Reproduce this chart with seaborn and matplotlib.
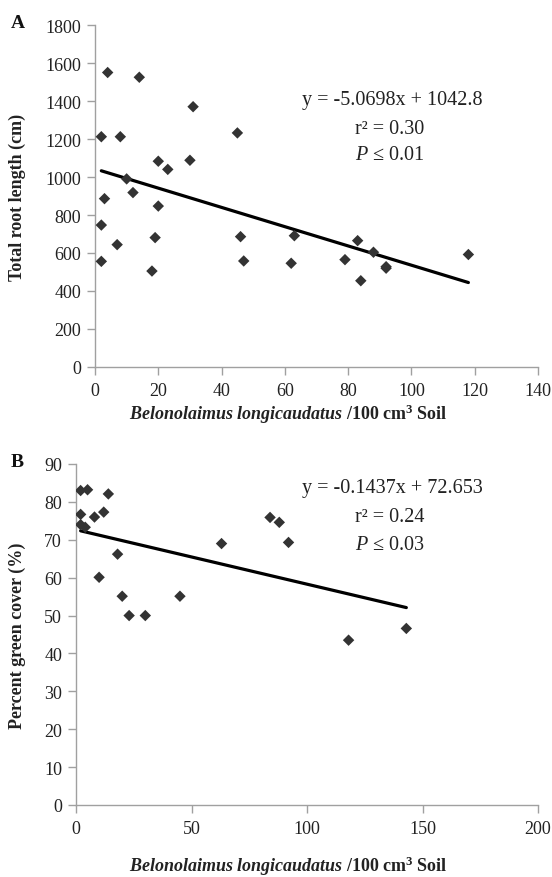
import numpy as np
import pandas as pd
import matplotlib
matplotlib.use("Agg")
import matplotlib.pyplot as plt
import seaborn as sns

# ---- Panel A data: nematodes vs total root length ----
a_nematodes = [2, 2, 2, 3, 4, 7, 8, 10, 12, 14, 18, 19, 20, 20, 23, 30, 31,
               45, 46, 47, 62, 63, 79, 83, 84, 88, 92, 92, 118]
a_root_length = [1212, 747, 556, 886, 1550, 644, 1212, 990, 918, 1525, 505, 681,
                 1083, 847, 1040, 1088, 1370, 1232, 686, 558, 546, 691, 565, 665,
                 454, 604, 528, 520, 592]
a_slope, a_intercept = -5.0698, 1042.8
a_eq = "y = -5.0698x + 1042.8"
a_r2 = "r² = 0.30"
a_p = "0.01"
a_xticks = [0, 20, 40, 60, 80, 100, 120, 140]
a_yticks = [0, 200, 400, 600, 800, 1000, 1200, 1400, 1600, 1800]

# ---- Panel B data: nematodes vs percent green cover ----
b_nematodes = [2, 5, 14, 2, 8, 12, 2, 4, 18, 10, 20, 23, 30, 45, 63, 84, 88, 92, 118, 143]
b_green_cover = [83.0, 83.2, 82.1, 76.7, 76.0, 77.3, 74.0, 73.3, 66.2, 60.1, 55.1, 50.0,
                 50.0, 55.1, 69.0, 75.9, 74.6, 69.3, 43.5, 46.6]
b_slope, b_intercept = -0.1437, 72.653
b_eq = "y = -0.1437x + 72.653"
b_r2 = "r² = 0.24"
b_p = "0.03"
b_xticks = [0, 50, 100, 150, 200]
b_yticks = [0, 10, 20, 30, 40, 50, 60, 70, 80, 90]

sns.set_theme(style="ticks")
plt.rcParams["font.family"] = ["Liberation Serif", "DejaVu Serif"]
plt.rcParams["mathtext.fontset"] = "custom"
plt.rcParams["mathtext.rm"] = "Liberation Serif"
plt.rcParams["mathtext.it"] = "Liberation Serif:italic"
plt.rcParams["mathtext.bf"] = "Liberation Serif:bold"
plt.rcParams["mathtext.bfit"] = "Liberation Serif:italic:bold"

W, H = 552, 878
fig = plt.figure(figsize=(W / 100, H / 100), dpi=100)

def px_axes(left, top, right, bottom):
    return fig.add_axes([left / W, 1 - bottom / H, (right - left) / W, (bottom - top) / H])

axA = px_axes(95, 26, 538, 368)
axB = px_axes(76, 465, 538, 806)

MARK = "#333333"
XLABEL = r"$\mathbfit{Belonolaimus\ longicaudatus}$ /100 cm$^{\mathbf{3}}$ Soil"

def panel(ax, xs, ys, slope, intercept, xticks, yticks, ylabel, eq, r2, p,
          eq_xy, letter, letter_xy, xlabel_y):
    df = pd.DataFrame({"x": xs, "y": ys})
    sns.scatterplot(data=df, x="x", y="y", ax=ax, marker="D", s=34,
                    color=MARK, edgecolor="none", zorder=3)
    lx = np.array([min(xs), max(xs)], dtype=float)
    line = pd.DataFrame({"x": lx, "y": slope * lx + intercept})
    sns.lineplot(data=line, x="x", y="y", ax=ax, color="black", lw=2.3, zorder=2)
    ax.set_xlim(xticks[0], xticks[-1])
    ax.set_ylim(yticks[0], yticks[-1])
    ax.set_xticks(xticks)
    ax.set_yticks(yticks)
    ax.set_xlabel("")
    ax.set_ylabel(ylabel, fontsize=13, fontweight="bold", color="#222222")
    ax.yaxis.set_label_coords(-(ax.get_position().x0 * W - 26) / (ax.get_position().width * W), 0.5)
    for s in ["top", "right"]:
        ax.spines[s].set_visible(False)
    for s in ["left", "bottom"]:
        ax.spines[s].set_color("#a0a0a0")
        ax.spines[s].set_linewidth(1.0)
    ax.tick_params(axis="both", direction="out", length=6, width=1.0, color="#a0a0a0",
                   labelsize=13, labelcolor="#222222")
    ax.tick_params(axis="x", pad=5)
    ax.tick_params(axis="y", pad=4)
    ex, ey = eq_xy
    fig.text(ex / W, 1 - ey / H, eq, ha="center", va="center", fontsize=14.5, color="#222222")
    fig.text((ex - 2) / W, 1 - (ey + 29) / H, r2, ha="center", va="center", fontsize=14.5, color="#222222")
    fig.text((ex - 2) / W, 1 - (ey + 56) / H, r"$\mathit{P}$ ≤ " + p, ha="center", va="center",
             fontsize=14.5, color="#222222")
    fig.text(letter_xy[0] / W, 1 - letter_xy[1] / H, letter, ha="left", va="center",
             fontsize=14, fontweight="bold", color="#111111")
    fig.text(288 / W, 1 - xlabel_y / H, XLABEL, ha="center", va="center",
             fontsize=13, fontweight="bold", color="#222222")

panel(axA, a_nematodes, a_root_length, a_slope, a_intercept, a_xticks, a_yticks,
      "Total root length (cm)", a_eq, a_r2, a_p, (392, 100), "A", (11, 23), 414)
panel(axB, b_nematodes, b_green_cover, b_slope, b_intercept, b_xticks, b_yticks,
      "Percent green cover (%)", b_eq, b_r2, b_p, (392, 489), "B", (11, 463), 866)

fig.savefig("out.png", dpi=100, facecolor="white")
